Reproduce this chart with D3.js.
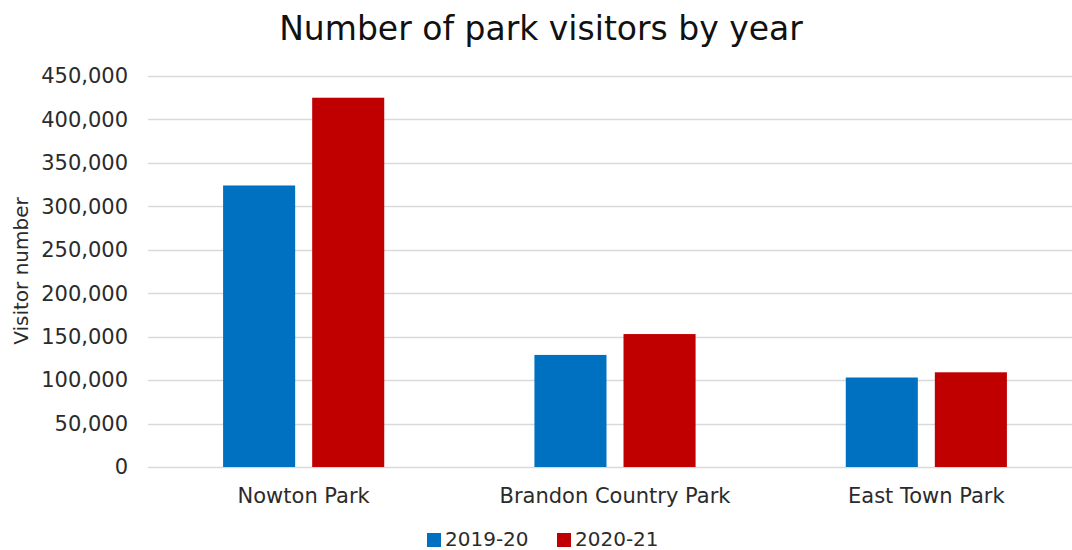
<!DOCTYPE html>
<html>
<head>
<meta charset="utf-8">
<script src="https://cdn.jsdelivr.net/npm/d3@7"></script>
<style>
  body { margin: 0; background: #fff; }
  svg { display: block; font-family: "DejaVu Sans", Verdana, sans-serif; }
</style>
</head>
<body>
<svg id="chart" width="1072" height="550"></svg>
<script>
// data
const parks = ['Nowton Park', 'Brandon Country Park', 'East Town Park'];
const seasons = ['2019-20', '2020-21'];
const visitors2019 = [324000, 129000, 103000];
const visitors2020 = [425000, 153000, 109000];
const seriesColors = ['#0070C0', '#C00000'];
const yTicks = [0, 50000, 100000, 150000, 200000, 250000, 300000, 350000, 400000, 450000];

const width = 1072, height = 550;
const plot = { left: 148, right: 1082, top: 76, bottom: 467 };

const svg = d3.select('#chart');

const x0 = d3.scaleBand().domain(parks).range([plot.left, plot.right]);
const x1 = d3.scaleBand().domain(seasons).range([0, x0.bandwidth()])
  .paddingInner(0.191).paddingOuter(0.843);
const y = d3.scaleLinear().domain([0, 450000]).range([plot.bottom, plot.top]);

// gridlines
svg.append('g')
  .selectAll('line')
  .data(yTicks)
  .enter()
  .append('line')
  .attr('x1', plot.left)
  .attr('x2', width)
  .attr('y1', d => Math.round(y(d)) + 0.5)
  .attr('y2', d => Math.round(y(d)) + 0.5)
  .attr('stroke', '#d9d9d9')
  .attr('stroke-width', 1.5);

// y tick labels
svg.append('g')
  .selectAll('text')
  .data(yTicks)
  .enter()
  .append('text')
  .attr('x', 128)
  .attr('y', d => y(d))
  .attr('dy', '0.35em')
  .attr('text-anchor', 'end')
  .attr('font-size', '21px')
  .attr('fill', '#2b2b2b')
  .text(d => d3.format(',')(d));

// bars
const rows = parks.map((p, i) => ({ park: p, values: [visitors2019[i], visitors2020[i]] }));
const groups = svg.append('g')
  .selectAll('g')
  .data(rows)
  .enter()
  .append('g')
  .attr('transform', d => `translate(${x0(d.park)},0)`);

groups.selectAll('rect')
  .data(d => d.values.map((v, j) => ({ season: seasons[j], value: v, j })))
  .enter()
  .append('rect')
  .attr('x', d => x1(d.season))
  .attr('width', x1.bandwidth())
  .attr('y', d => y(d.value))
  .attr('height', d => y(0) - y(d.value))
  .attr('fill', d => seriesColors[d.j]);

// category labels
svg.append('g')
  .selectAll('text')
  .data(parks)
  .enter()
  .append('text')
  .attr('x', d => x0(d) + x0.bandwidth() / 2)
  .attr('y', 503)
  .attr('text-anchor', 'middle')
  .attr('font-size', '21px')
  .attr('fill', '#2b2b2b')
  .text(d => d);

// title
svg.append('text')
  .attr('x', 541)
  .attr('y', 40)
  .attr('text-anchor', 'middle')
  .attr('font-size', '33px')
  .attr('fill', '#111')
  .text('Number of park visitors by year');

// y axis title
svg.append('text')
  .attr('transform', 'translate(28,271) rotate(-90)')
  .attr('text-anchor', 'middle')
  .attr('font-size', '20px')
  .attr('fill', '#2b2b2b')
  .text('Visitor number');

// legend
const legendX = [427, 557];
const legend = svg.append('g')
  .selectAll('g')
  .data(seasons)
  .enter()
  .append('g')
  .attr('transform', (d, i) => `translate(${legendX[i]},539)`);

legend.append('rect')
  .attr('x', 0)
  .attr('y', -6)
  .attr('width', 14)
  .attr('height', 14)
  .attr('fill', (d, i) => seriesColors[i]);

legend.append('text')
  .attr('x', 18)
  .attr('y', 0)
  .attr('dy', '0.35em')
  .attr('font-size', '20px')
  .attr('fill', '#2b2b2b')
  .text(d => d);
</script>
</body>
</html>
